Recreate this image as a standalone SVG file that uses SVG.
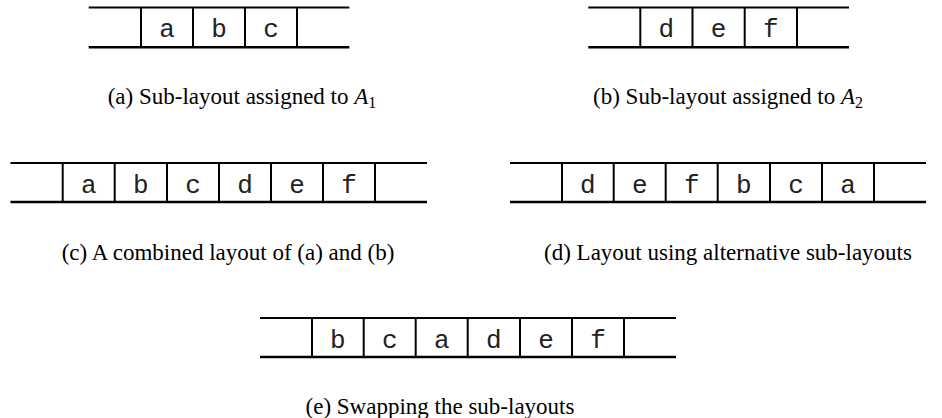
<svg xmlns="http://www.w3.org/2000/svg" width="942" height="418" viewBox="0 0 942 418">
  <style>
    .top { stroke: #000; stroke-width: 2; fill: none; }
    .bot { stroke: #000; stroke-width: 2.6; fill: none; }
    .sep { stroke: #000; stroke-width: 2; fill: none; }
    .cell { font-family: "Liberation Mono", "DejaVu Sans Mono", monospace; font-size: 26px; text-anchor: middle; fill: #222; }
    .cap { font-family: "Liberation Serif", "DejaVu Serif", serif; font-size: 23px; text-anchor: middle; fill: #000; }
    .it { font-style: italic; }
  </style>

  <!-- (a) -->
  <g id="layout-a">
    <line class="top" x1="88.7" y1="7.5" x2="349.3" y2="7.5"/>
    <line class="bot" x1="88.7" y1="47.3" x2="349.3" y2="47.3"/>
    <line class="sep" x1="141" y1="7.5" x2="141" y2="47.3"/>
    <line class="sep" x1="193" y1="7.5" x2="193" y2="47.3"/>
    <line class="sep" x1="245" y1="7.5" x2="245" y2="47.3"/>
    <line class="sep" x1="297" y1="7.5" x2="297" y2="47.3"/>
    <text class="cell" x="167" y="37">a</text>
    <text class="cell" x="219" y="37">b</text>
    <text class="cell" x="271" y="37">c</text>
    <text class="cap" x="242" y="104">(a) Sub-layout assigned to <tspan class="it">A</tspan><tspan font-size="16" dy="4">1</tspan></text>
  </g>

  <!-- (b) -->
  <g id="layout-b">
    <line class="top" x1="588.3" y1="7.5" x2="849" y2="7.5"/>
    <line class="bot" x1="588.3" y1="47.3" x2="849" y2="47.3"/>
    <line class="sep" x1="640.3" y1="7.5" x2="640.3" y2="47.3"/>
    <line class="sep" x1="692.5" y1="7.5" x2="692.5" y2="47.3"/>
    <line class="sep" x1="744.7" y1="7.5" x2="744.7" y2="47.3"/>
    <line class="sep" x1="797" y1="7.5" x2="797" y2="47.3"/>
    <text class="cell" x="666.4" y="37">d</text>
    <text class="cell" x="718.6" y="37">e</text>
    <text class="cell" x="770.8" y="37">f</text>
    <text class="cap" x="728" y="104">(b) Sub-layout assigned to <tspan class="it">A</tspan><tspan font-size="16" dy="4">2</tspan></text>
  </g>

  <!-- (c) -->
  <g id="layout-c">
    <line class="top" x1="10.5" y1="163" x2="427" y2="163"/>
    <line class="bot" x1="10.5" y1="202" x2="427" y2="202"/>
    <line class="sep" x1="62.7" y1="163" x2="62.7" y2="202"/>
    <line class="sep" x1="114.7" y1="163" x2="114.7" y2="202"/>
    <line class="sep" x1="167" y1="163" x2="167" y2="202"/>
    <line class="sep" x1="219" y1="163" x2="219" y2="202"/>
    <line class="sep" x1="271" y1="163" x2="271" y2="202"/>
    <line class="sep" x1="323" y1="163" x2="323" y2="202"/>
    <line class="sep" x1="375" y1="163" x2="375" y2="202"/>
    <text class="cell" x="88.7" y="192.5">a</text>
    <text class="cell" x="140.8" y="192.5">b</text>
    <text class="cell" x="193" y="192.5">c</text>
    <text class="cell" x="245" y="192.5">d</text>
    <text class="cell" x="297" y="192.5">e</text>
    <text class="cell" x="349" y="192.5">f</text>
    <text class="cap" x="228" y="260">(c) A combined layout of (a) and (b)</text>
  </g>

  <!-- (d) -->
  <g id="layout-d">
    <line class="top" x1="510" y1="163" x2="926" y2="163"/>
    <line class="bot" x1="510" y1="202" x2="926" y2="202"/>
    <line class="sep" x1="562" y1="163" x2="562" y2="202"/>
    <line class="sep" x1="613.7" y1="163" x2="613.7" y2="202"/>
    <line class="sep" x1="665.7" y1="163" x2="665.7" y2="202"/>
    <line class="sep" x1="717.7" y1="163" x2="717.7" y2="202"/>
    <line class="sep" x1="770" y1="163" x2="770" y2="202"/>
    <line class="sep" x1="822" y1="163" x2="822" y2="202"/>
    <line class="sep" x1="874" y1="163" x2="874" y2="202"/>
    <text class="cell" x="587.8" y="192.5">d</text>
    <text class="cell" x="639.7" y="192.5">e</text>
    <text class="cell" x="691.7" y="192.5">f</text>
    <text class="cell" x="743.8" y="192.5">b</text>
    <text class="cell" x="796" y="192.5">c</text>
    <text class="cell" x="848" y="192.5">a</text>
    <text class="cap" x="728" y="260">(d) Layout using alternative sub-layouts</text>
  </g>

  <!-- (e) -->
  <g id="layout-e">
    <line class="top" x1="260" y1="318" x2="676" y2="318"/>
    <line class="bot" x1="260" y1="357" x2="676" y2="357"/>
    <line class="sep" x1="312" y1="318" x2="312" y2="357"/>
    <line class="sep" x1="363.7" y1="318" x2="363.7" y2="357"/>
    <line class="sep" x1="415.7" y1="318" x2="415.7" y2="357"/>
    <line class="sep" x1="467.7" y1="318" x2="467.7" y2="357"/>
    <line class="sep" x1="520" y1="318" x2="520" y2="357"/>
    <line class="sep" x1="572" y1="318" x2="572" y2="357"/>
    <line class="sep" x1="624" y1="318" x2="624" y2="357"/>
    <text class="cell" x="337.8" y="347.5">b</text>
    <text class="cell" x="389.7" y="347.5">c</text>
    <text class="cell" x="441.7" y="347.5">a</text>
    <text class="cell" x="493.8" y="347.5">d</text>
    <text class="cell" x="546" y="347.5">e</text>
    <text class="cell" x="598" y="347.5">f</text>
    <text class="cap" x="440" y="414">(e) Swapping the sub-layouts</text>
  </g>
</svg>
